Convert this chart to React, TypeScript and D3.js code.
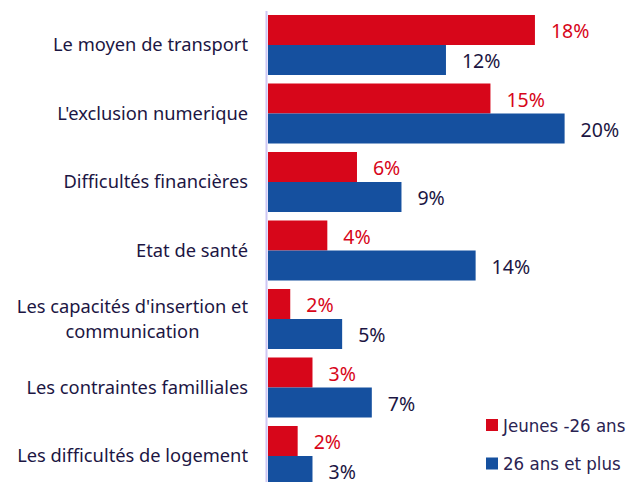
import { useEffect, useRef } from "react";
import * as d3 from "d3";

const categories = [
  "Le moyen de transport",
  "L'exclusion numerique",
  "Difficultés financières",
  "Etat de santé",
  "Les capacités d'insertion et\ncommunication",
  "Les contraintes familliales",
  "Les difficultés de logement",
];
const seriesNames = ["Jeunes -26 ans", "26 ans et plus"];
const jeunes = [18, 15, 6, 4, 1.5, 3, 2];
const plus26 = [12, 20, 9, 14, 5, 7, 3];
const colors = ["#d7061a", "#15509f"];
const labelColors = ["#d7061a", "#1c1643"];

export default function App() {
  const svgRef = useRef<SVGSVGElement | null>(null);

  useEffect(() => {
    const width = 633;
    const height = 482;
    const svg = d3.select(svgRef.current);
    svg.selectAll("*").remove();

    const x = d3.scaleLinear().domain([0, 20]).range([268, 564.6]);
    const y = d3
      .scaleBand()
      .domain(categories)
      .range([10.75, 490.25])
      .paddingInner(0.124)
      .paddingOuter(0.062);
    const ySub = d3.scaleBand().domain(seriesNames).range([0, y.bandwidth()]);

    const rows = categories.map((c, i) => ({ cat: c, vals: [jeunes[i], plus26[i]] }));

    // axis line
    svg
      .append("line")
      .attr("x1", 266.5)
      .attr("x2", 266.5)
      .attr("y1", 11)
      .attr("y2", height)
      .attr("stroke", "#cdc6f3")
      .attr("stroke-width", 2);

    const g = svg
      .selectAll("g.row")
      .data(rows)
      .enter()
      .append("g")
      .attr("class", "row")
      .attr("transform", (d) => `translate(0,${y(d.cat)})`);

    seriesNames.forEach((s, si) => {
      g.append("rect")
        .attr("x", x(0))
        .attr("y", ySub(s)!)
        .attr("width", (d) => x(d.vals[si]) - x(0))
        .attr("height", ySub.bandwidth())
        .attr("fill", colors[si]);

      g.append("text")
        .attr("x", (d) => x(d.vals[si]) + 16)
        .attr("y", ySub(s)! + ySub.bandwidth() / 2 + 1)
        .attr("dominant-baseline", "central")
        .attr("font-size", 19.5)
        .attr("fill", labelColors[si])
        .text((d) => `${Math.round(d.vals[si])}%`);
    });

    // category labels
    const labelX = 248;
    g.each(function (d) {
      const lines = d.cat.split("\n");
      const t = d3
        .select(this)
        .append("text")
        .attr("font-size", 18.3)
        .attr("fill", "#1c1643")
        .attr("text-anchor", "end");
      const lh = 25;
      const mid = y.bandwidth() / 2 - 1;
      lines.forEach((ln, li) => {
        t.append("tspan")
          .attr("x", labelX)
          .attr("y", mid + (li - (lines.length - 1) / 2) * lh)
          .attr("dominant-baseline", "central")
          .text(ln);
      });
      if (lines.length > 1) {
        let maxW = 0;
        t.selectAll<SVGTSpanElement, unknown>("tspan").each(function () {
          maxW = Math.max(maxW, this.getComputedTextLength());
        });
        t.attr("text-anchor", "middle");
        t.selectAll("tspan").attr("x", labelX - maxW / 2);
      }
    });

    // legend
    const legend = svg
      .selectAll("g.legend")
      .data(seriesNames)
      .enter()
      .append("g")
      .attr("class", "legend")
      .attr("transform", (_d, i) => `translate(486,${419 + i * 38.5})`);
    legend
      .append("rect")
      .attr("width", 12)
      .attr("height", 12)
      .attr("fill", (_d, i) => colors[i]);
    legend
      .append("text")
      .attr("x", 17)
      .attr("y", 6)
      .attr("dominant-baseline", "central")
      .attr("font-family", "'Liberation Sans Narrow', 'DejaVu Sans Condensed', sans-serif")
      .attr("font-size", 18.5)
      .attr("fill", "#2a2352")
      .text((d) => d);

    svg.attr("width", width).attr("height", height);
  }, []);

  return (
    <svg
      ref={svgRef}
      style={{ position: "absolute", left: 0, top: 0, fontFamily: "'Noto Sans', sans-serif" }}
    />
  );
}
